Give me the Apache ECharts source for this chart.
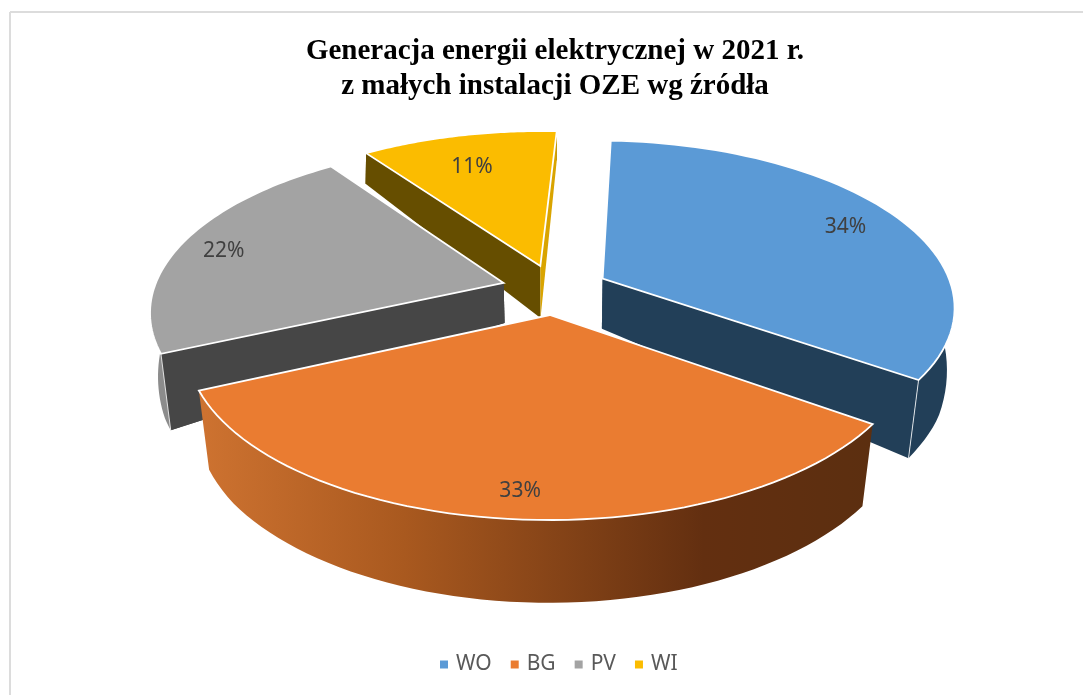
<!DOCTYPE html>
<html><head><meta charset="utf-8">
<style>html,body{margin:0;padding:0;background:#fff}#c{width:1083px;height:695px}</style>
<script src="https://cdn.jsdelivr.net/npm/echarts@6/dist/echarts.min.js"></script>
</head><body><div id="c"></div>
<script>
const categories = ['WO', 'BG', 'PV', 'WI'];
const values = [34.0, 33.49, 21.9, 10.61];
const topColors = ['#5b9ad6', '#ea7c31', '#a3a3a3', '#fbbc00'];

// view of the tilted, exploded pie
const C = {cx: 555, cy: 289.5, A: 350, B: 163.4, k: 0.159, explode: 0.153, start: 2.8};
const apexDrop = [50, 50, 40, 52];
const labelR = [0.82, 0.88, 0.86, 0.74];
const labelTurn = [1.5, -1, -1.5, -1.5];
const rimDrop = [[-1.3, 83], [-0.7, 82], [-0.45, 77], [-0.3, 76], [0, 62], [0.8, 32], [1.3, 28]];
// wall colours: at the slice's first edge, along the rim, at its last edge
const wallFirst = ['#223f58', null, '#464646', '#664e00'];
const wallRim = ['#223f58', null, '#8c8c8c', '#664e00'];
const wallLast = ['#223f58', null, '#464646', '#d9a400'];

const total = values.reduce((a, b) => a + b, 0);
function drop(Y) {
  for (let i = 1; i < rimDrop.length; i++) {
    if (Y <= rimDrop[i][0]) {
      const a = rimDrop[i - 1], b = rimDrop[i];
      return a[1] + (b[1] - a[1]) * (Y - a[0]) / (b[0] - a[0]);
    }
  }
  return rimDrop[rimDrop.length - 1][1];
}
function project(X, Y) {
  const w = 1 + C.k * Y;
  return [C.cx + C.A * X / w, C.cy - C.B * Y / w];
}
function lower(p, Y, h) {
  const f = 0.983 + 0.021 * Y;
  return [C.cx + (p[0] - C.cx) * f, p[1] + h];
}
function sliceAngles(i) {
  let a = C.start;
  for (let j = 0; j < i; j++) a += values[j] / total * 360;
  return [a, a + values[i] / total * 360];
}
function renderSlice(i) {
  const [a0, a1] = sliceAngles(i);
  const mid = (a0 + a1) / 2 * Math.PI / 180;
  const ox = C.explode * Math.sin(mid), oy = C.explode * Math.cos(mid);
  const top = [], bot = [];
  const n = 60;
  for (let s = 0; s <= n; s++) {
    const t = (a0 + (a1 - a0) * s / n) * Math.PI / 180;
    const X = ox + Math.sin(t), Y = oy + Math.cos(t);
    const p = project(X, Y);
    top.push(p);
    bot.push(lower(p, Y, drop(Y)));
  }
  const apex = project(ox, oy);
  const apexB = lower(apex, oy, apexDrop[i]);
  const children = [];
  const edge = {stroke: 'rgba(255,255,255,0.8)', lineWidth: 1};
  const rimFill = i === 1
    ? new echarts.graphic.LinearGradient(204, 0, 870, 0, [
        {offset: 0, color: '#cd7230'}, {offset: 0.3, color: '#a9591f'},
        {offset: 0.75, color: '#632f10'}, {offset: 1, color: '#5c2f10'}], true)
    : wallRim[i];
  children.push({type: 'polygon', shape: {points: top.concat(bot.slice().reverse())},
    style: {fill: rimFill, stroke: 'none'}});
  if (wallFirst[i]) {
    children.push({type: 'polygon', shape: {points: [apex, top[0], bot[0], apexB]},
      style: {fill: wallFirst[i], stroke: 'none'}});
  }
  if (wallLast[i]) {
    children.push({type: 'polygon', shape: {points: [apex, top[n], bot[n], apexB]},
      style: {fill: wallLast[i], stroke: 'none'}});
  }
  // the front-facing walls hide the rim; redraw them and the corner edge
  if (i === 0) {
    children.push({type: 'line', shape: {x1: top[n][0], y1: top[n][1], x2: bot[n][0], y2: bot[n][1]}, style: edge});
  }
  if (i === 2) {
    children.push({type: 'polygon', shape: {points: [apex, top[0], bot[0], apexB]},
      style: {fill: wallFirst[i], stroke: 'none'}});
    children.push({type: 'line', shape: {x1: top[0][0], y1: top[0][1], x2: bot[0][0], y2: bot[0][1]}, style: edge});
  }
  children.push({type: 'polygon', shape: {points: [apex].concat(top)},
    style: {fill: topColors[i], stroke: '#fff', lineWidth: 1.8, lineJoin: 'miter'}});
  const r = labelR[i];
  const la = mid + labelTurn[i] * Math.PI / 180;
  const lp = project(ox + r * Math.sin(la), oy + r * Math.cos(la));
  children.push({type: 'text', style: {
    x: lp[0], y: lp[1], text: Math.round(values[i] / total * 100) + '%',
    align: 'center', verticalAlign: 'middle',
    font: '21px "Noto Sans"', fill: '#404040'}});
  return {type: 'group', children};
}

// painter's order: farthest slice first
const paintOrder = [3, 2, 0, 1];
const series = categories.map((name, i) => ({
  type: 'custom', name, coordinateSystem: 'none',
  data: [values[i]], z: 2 + paintOrder.indexOf(i),
  itemStyle: {color: topColors[i]},
  renderItem: () => renderSlice(i),
  animation: false
}));

const chart = echarts.init(document.getElementById('c'), null, {renderer: 'canvas'});
chart.setOption({
  backgroundColor: '#fff',
  animation: false,
  title: {
    text: 'Generacja energii elektrycznej w 2021 r.\nz małych instalacji OZE wg źródła',
    left: 550, top: 29, textAlign: 'center',
    textStyle: {fontFamily: '"Liberation Serif"', fontWeight: 'bold', fontSize: 29, lineHeight: 35, color: '#000'}
  },
  legend: {
    data: categories, left: 435, top: 649, icon: 'rect',
    itemWidth: 8, itemHeight: 8, itemGap: 19, selectedMode: false,
    textStyle: {fontFamily: '"Noto Sans"', fontSize: 21, color: '#595959', padding: [0, 0, 0, 3]}
  },
  graphic: [
    {type: 'line', shape: {x1: 10, y1: 12, x2: 1083, y2: 12}, style: {stroke: '#dcdcdc', lineWidth: 2}, z: 1},
    {type: 'line', shape: {x1: 10, y1: 12, x2: 10, y2: 695}, style: {stroke: '#dcdcdc', lineWidth: 2}, z: 1}
  ],
  series
});
</script></body></html>
